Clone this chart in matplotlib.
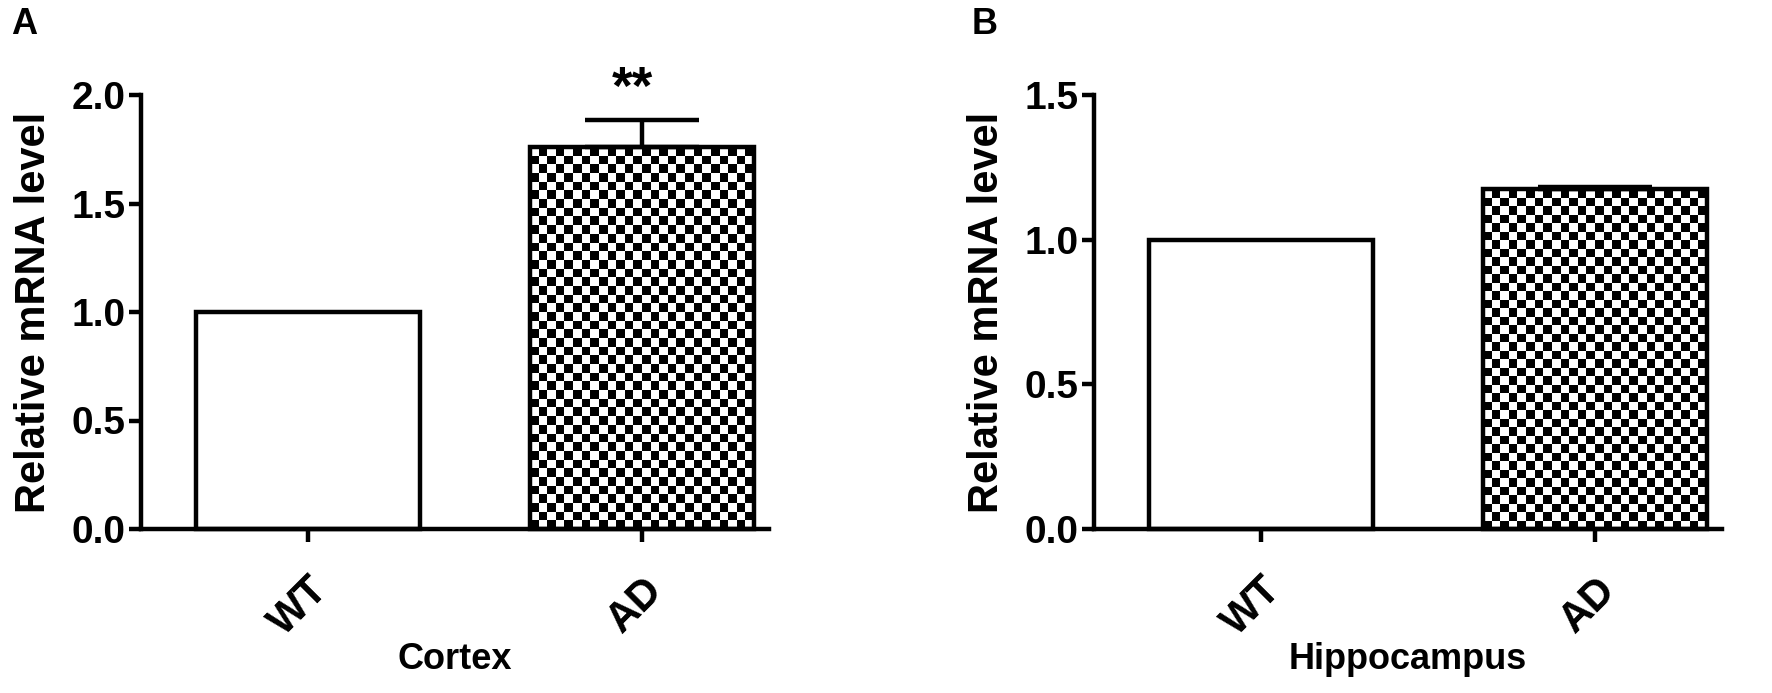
import numpy as np
import matplotlib
matplotlib.use("Agg")
import matplotlib.pyplot as plt

plt.rcParams['font.family'] = ['Liberation Sans', 'DejaVu Sans']
plt.rcParams['font.weight'] = 'bold'

# data
groups = ["WT", "AD"]
cortex_mean = [1.0, 1.76]
cortex_err = [0.0, 0.125]
hippo_mean = [1.0, 1.175]
hippo_err = [0.0, 0.008]

panels = [
    dict(tag="A", mean=cortex_mean, err=cortex_err, region="Cortex",
         ymax=2.0, yticks=[0.0, 0.5, 1.0, 1.5, 2.0], star="**", star_y=1.96),
    dict(tag="B", mean=hippo_mean, err=hippo_err, region="Hippocampus",
         ymax=1.5, yticks=[0.0, 0.5, 1.0, 1.5], star=None, star_y=None),
]

W, H = 1772, 693
fig = plt.figure(figsize=(W / 100, H / 100), dpi=100)

ax_left = [141, 1094]
tag_x = [11, 972]
ax_w = 628
ax_top, ax_bot = 95, 529
cell = 8.6  # checker cell size in pixels
lw = 3.2

for p, left, tx in zip(panels, ax_left, tag_x):
    ax = fig.add_axes([left / W, 1 - ax_bot / H, ax_w / W, (ax_bot - ax_top) / H])
    x = np.arange(len(groups))
    ax.set_xlim(-0.5, 1.38)
    ax.set_ylim(0, p["ymax"])

    bars = ax.bar(x, p["mean"], width=0.67, facecolor="none", edgecolor="black",
                  linewidth=lw, zorder=3, clip_on=False)

    # checker fill for the AD bar
    b = bars[1]
    x0, y0 = b.get_x(), b.get_y()
    bw, bh = b.get_width(), b.get_height()
    (px0, py0), (px1, py1) = ax.transData.transform([(x0, y0), (x0 + bw, y0 + bh)])
    nx = max(int(round((px1 - px0) / cell)), 2)
    ny = max(int(round((py1 - py0) / cell)), 2)
    ii, jj = np.indices((ny, nx))
    checker = ((ii + jj) % 2).astype(float)
    im = ax.imshow(checker, cmap="gray", vmin=0, vmax=1, interpolation="nearest",
                   extent=(x0, x0 + bw, y0, y0 + bh), origin="lower", aspect="auto", zorder=2)
    im.set_clip_path(b)
    ax.set_xlim(-0.5, 1.38)
    ax.set_ylim(0, p["ymax"])

    # upper error bar only
    ax.errorbar(x[1], p["mean"][1], yerr=[[0], [p["err"][1]]], fmt="none",
                ecolor="black", elinewidth=lw, capsize=41, capthick=lw,
                zorder=4, clip_on=False)

    if p["star"]:
        ax.text(x[1] - 0.03, p["star_y"], p["star"], ha="center",
                va="baseline", fontsize=38, fontweight="bold")

    ax.spines['top'].set_visible(False)
    ax.spines['right'].set_visible(False)
    ax.spines['left'].set_linewidth(lw)
    ax.spines['bottom'].set_linewidth(lw)
    ax.set_yticks(p["yticks"])
    ax.set_yticklabels([f"{v:.1f}" for v in p["yticks"]])
    ax.set_xticks(x)
    ax.set_xticklabels(groups, rotation=45, ha="right", rotation_mode="anchor")
    ax.tick_params(axis="both", width=lw, length=9, labelsize=28, pad=2)
    ax.tick_params(axis="x", pad=20, labelsize=30)
    ax.set_ylabel("Relative mRNA level", fontsize=30, fontweight="bold", va="center")
    ax.yaxis.set_label_coords(-0.17, 0.5)
    ax.set_xlabel(p["region"], fontsize=26, fontweight="bold", va="center")
    ax.xaxis.set_label_coords(0.5, -0.30)

    fig.text(tx / W, 1 - 24 / H, p["tag"], fontsize=26, fontweight="bold",
             ha="left", va="center")

fig.savefig("out.png", dpi=100, facecolor="white")
